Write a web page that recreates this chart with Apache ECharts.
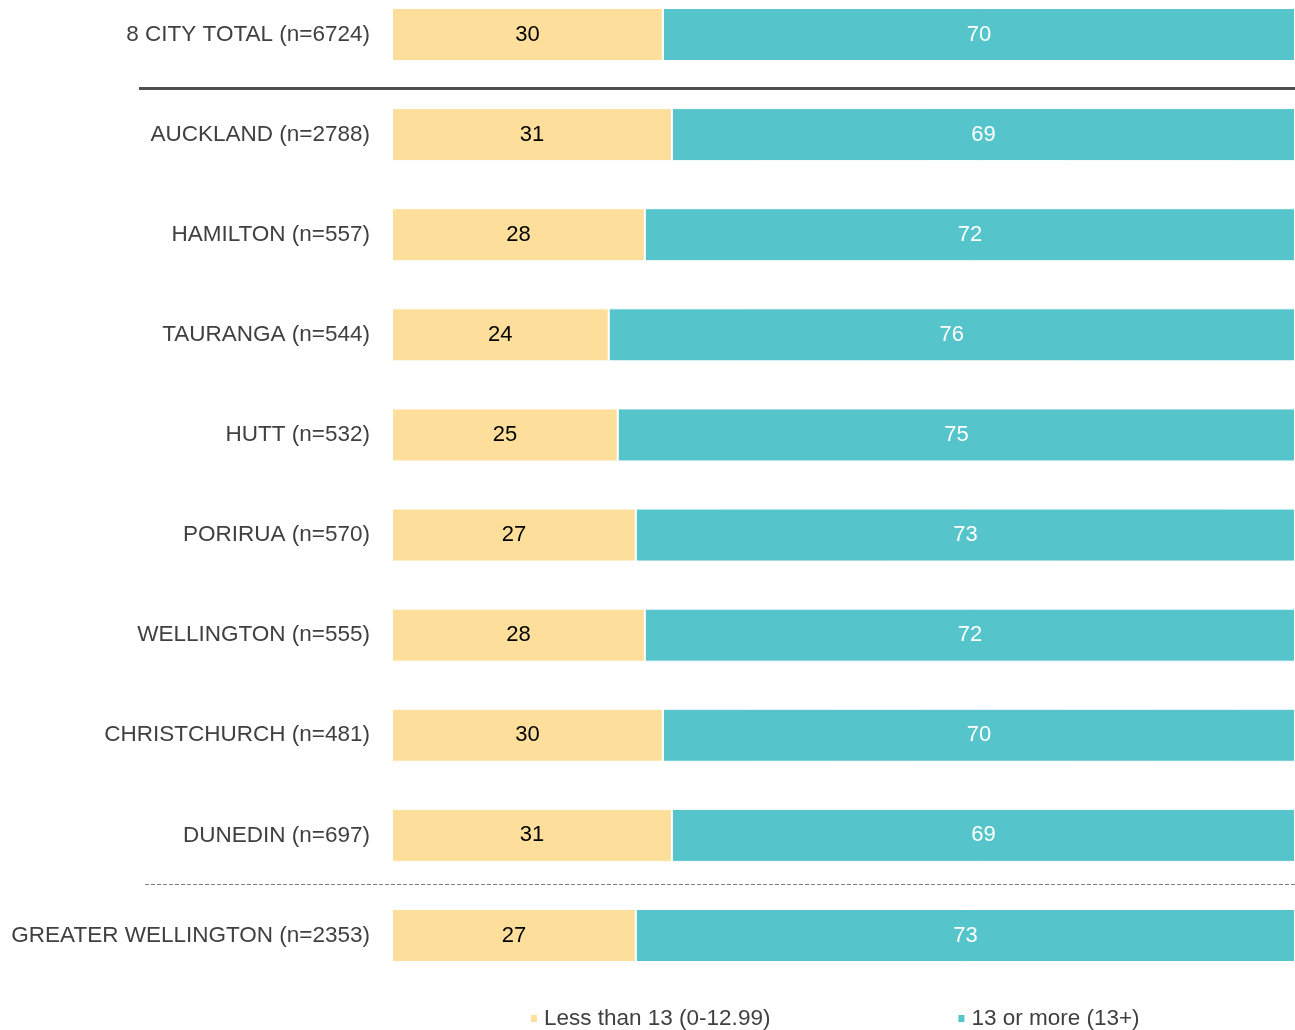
<!DOCTYPE html>
<html><head><meta charset="utf-8">
<script src="https://cdn.jsdelivr.net/npm/echarts@6/dist/echarts.min.js"></script>
<style>html,body{margin:0;padding:0;background:#fff}#c{width:1295px;height:1030px}</style>
</head><body><div id="c"></div>
<script>
const categories = ["8 CITY TOTAL (n=6724)","AUCKLAND (n=2788)","HAMILTON (n=557)","TAURANGA (n=544)","HUTT (n=532)","PORIRUA (n=570)","WELLINGTON (n=555)","CHRISTCHURCH (n=481)","DUNEDIN (n=697)","GREATER WELLINGTON (n=2353)"];
const lessThan13 = [30,31,28,24,25,27,28,30,31,27];
const thirteenPlus = [70,69,72,76,75,73,72,70,69,73];
const seriesNames = ["Less than 13 (0-12.99)","13 or more (13+)"];

const chart = echarts.init(document.getElementById('c'));
const font = 'Liberation Sans, Arial, sans-serif';
chart.setOption({
  animation:false,
  grid:{left:392,right:0,top:34.5,height:901,containLabel:false},
  xAxis:{type:'value',min:0,max:100,show:false},
  yAxis:{type:'category',data:categories,inverse:true,boundaryGap:false,
    axisLine:{show:false},axisTick:{show:false},splitLine:{show:false},
    axisLabel:{margin:22,fontSize:22.5,color:'#404040',fontFamily:font,padding:[2,0,0,0]}},
  legend:{left:529,top:1007,padding:0,itemWidth:8,itemHeight:9,itemGap:186,icon:'rect',
    textStyle:{fontSize:22.5,color:'#404040',fontFamily:font,padding:[0,0,0,1]},
    data:seriesNames},
  series:[
    {name:seriesNames[0],type:'bar',stack:'a',data:lessThan13,barWidth:53,
     itemStyle:{color:'#FDDF9B',borderColor:'#fff',borderWidth:1},
     label:{show:true,position:'inside',color:'#000',fontSize:22,fontFamily:font,padding:[2,0,0,0]}},
    {name:seriesNames[1],type:'bar',stack:'a',data:thirteenPlus,barWidth:53,
     itemStyle:{color:'#56C5CB',borderColor:'#fff',borderWidth:1},
     label:{show:true,position:'inside',color:'#fff',fontSize:22,fontFamily:font,padding:[2,0,0,0]}}
  ],
  graphic:[
    {type:'line',shape:{x1:139,y1:88.5,x2:1295,y2:88.5},style:{stroke:'#505050',lineWidth:3}},
    {type:'line',shape:{x1:145,y1:884.5,x2:1295,y2:884.5},style:{stroke:'#808080',lineWidth:1,lineDash:[4,2]}}
  ]
});
</script></body></html>
